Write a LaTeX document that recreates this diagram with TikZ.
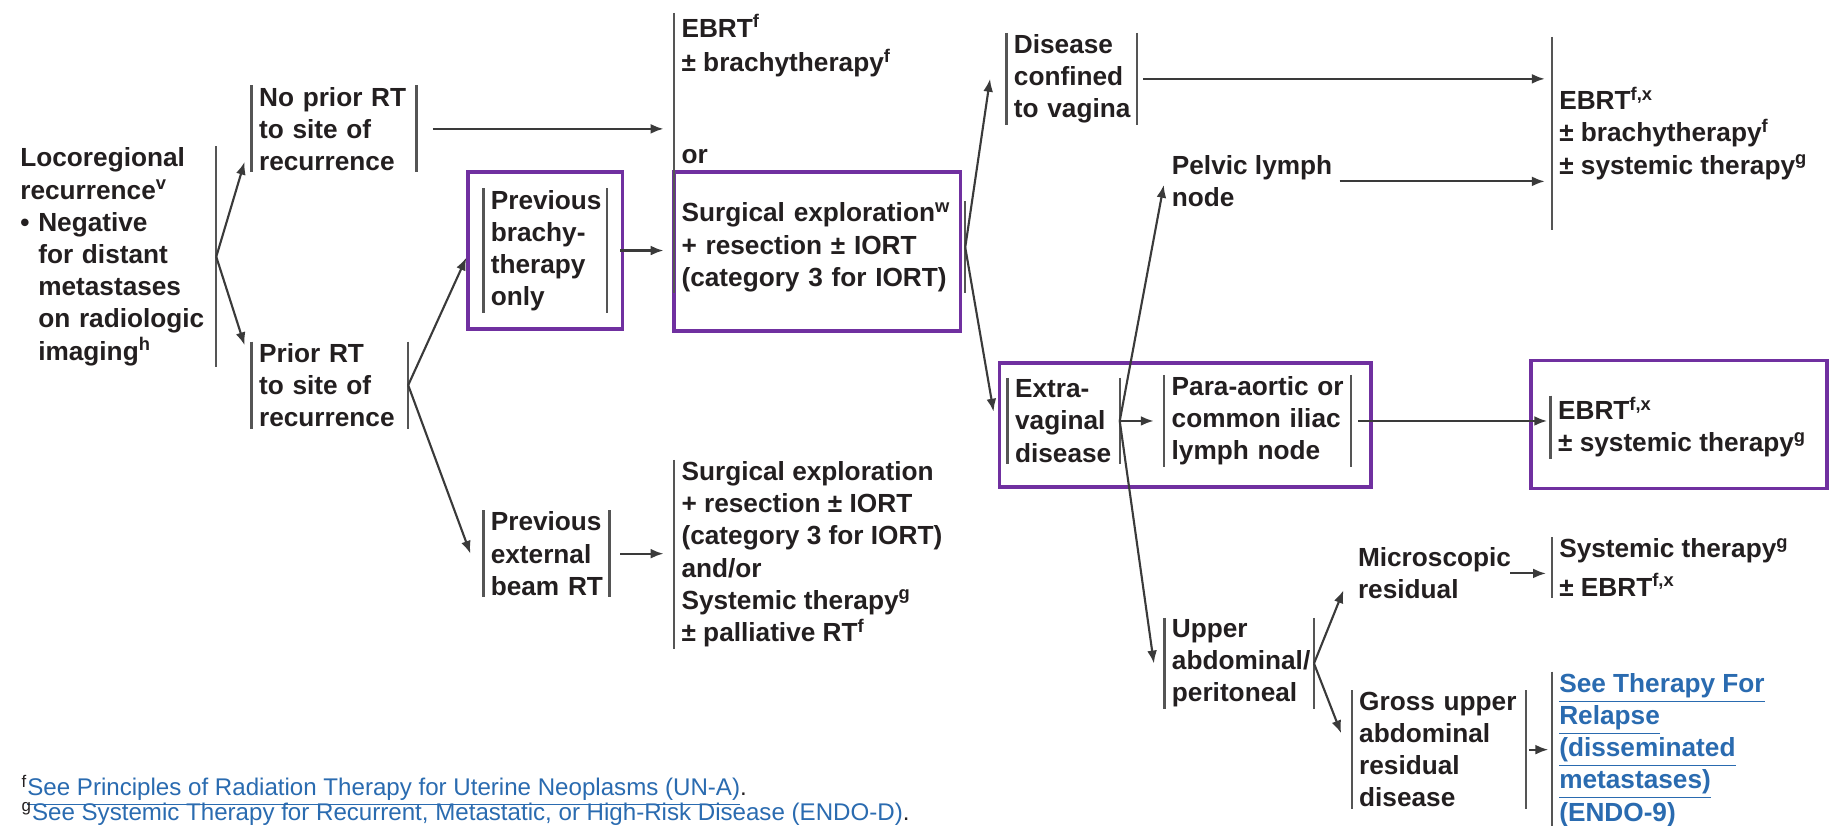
\documentclass[tikz,border=0pt]{standalone}
\usepackage{fontspec}
\setmainfont{Liberation Sans}
\usetikzlibrary{positioning, arrows.meta, fit}
\definecolor{ink}{HTML}{231F20}
\definecolor{barline}{HTML}{555555}
\definecolor{arrowline}{HTML}{3A3A3A}
\definecolor{nccnpurple}{HTML}{7030A0}
\definecolor{linkblue}{HTML}{2A6BB0}
\newcommand{\sups}[1]{\textsuperscript{#1}}
\newcommand{\lnk}[1]{\underline{#1}}
\newcommand{\bulind}{\phantom{\textbullet\ }}
\hyphenpenalty=10000
\exhyphenpenalty=10000

\begin{document}
\begin{tikzpicture}[
    x=0.5pt, y=-0.5pt,
    txt/.style={inner xsep=3pt, inner ysep=0.5pt, align=left, text=ink, font=\fontsize{11.2}{13.75}\selectfont\bfseries},
    fnote/.style={inner sep=0pt, text=ink, font=\fontsize{10.3}{10.75}\selectfont},
    hl/.style={draw=nccnpurple, line width=1.5pt},
    bar/.style={draw=barline, line width=1pt},
    arrow/.style={-{Latex[length=5.5pt,width=4.2pt]}, line width=0.9pt, draw=arrowline}
]
\path[use as bounding box, fill=white] (0,0) rectangle (1568,705);

% first split
\node[txt, anchor=north west, text width=80.5pt] (loco) at (11,125)
    {Locoregional\\recurrence\sups{v}\\\textbullet\ Negative\\\bulind for~distant\\\bulind metastases\\\bulind on~radiologic\\\bulind imaging\sups{h}};
\node[txt, anchor=north west, text width=64pt] (noprior) at (215,73) {No~prior~RT\\to~site~of\\recurrence};
\node[txt, anchor=north west, text width=60.5pt] (prior) at (215,292) {Prior~RT\\to~site~of\\recurrence};

% prior RT split
\node[txt, anchor=north west, text width=46.5pt] (brachy) at (413,161) {Previous\\brachy-\\therapy\\only};
\node[txt, anchor=north west, text width=47.5pt] (extbeam) at (413,436) {Previous\\external\\beam~RT};
\node[hl, fit=(brachy), inner xsep=6.5pt, inner ysep=7pt] (brachyhl) {};

% treatment column
\node[txt, anchor=north west] (ebrt) at (576,11) {EBRT\sups{f}\\[1pt]± brachytherapy\sups{f}};
\node[txt, anchor=west] (orword) at (576,134) {or};
\node[txt, anchor=north west, text width=118pt] (surg) at (576,172) {Surgical~exploration\sups{w}\\+~resection~±~IORT\\(category~3~for~IORT)};
\node[txt, anchor=north west] (salvage) at (576,393) {Surgical exploration\\+ resection ± IORT\\(category 3 for IORT)\\and/or\\Systemic therapy\sups{g}\\± palliative RT\sups{f}};

% findings at surgery
\node[txt, anchor=north west, text width=49.5pt] (dis) at (860,28) {Disease\\confined\\to~vagina};
\node[txt, anchor=west] (pelvic) at (995,155) {Pelvic lymph\\node};
\node[txt, anchor=north west, text width=41.5pt] (extra) at (861,323) {Extra-\\vaginal\\disease};
\node[txt, right=19pt of extra, text width=73.5pt] (para) {Para-aortic~or\\common~iliac\\lymph~node};
\node[txt, anchor=north west, text width=57.5pt] (upper) at (995,528) {Upper\\abdominal/\\peritoneal};
\node[txt, anchor=west] (micro) at (1154,490) {Microscopic\\residual};
\node[txt, anchor=north west, text width=68pt] (gross) at (1155,590) {Gross~upper\\abdominal\\residual\\disease};

% adjuvant treatment
\node[txt, anchor=west, minimum height=82pt] (ebrtx) at (1326,114) {EBRT\sups{f,x}\\± brachytherapy\sups{f}\\± systemic therapy\sups{g}};
\node[txt, anchor=north west] (ebrtxb) at (1325,338) {EBRT\sups{f,x}\\± systemic therapy\sups{g}};
\node[txt, anchor=north west] (sysg) at (1326,459) {Systemic therapy\sups{g}\\[2.5pt]± EBRT\sups{f,x}};
\node[txt, anchor=north west, text=linkblue] (relapse) at (1326,574) {\lnk{See Therapy For}\\\lnk{Relapse}\\\lnk{(disseminated}\\\lnk{metastases)}\\\lnk{(ENDO-9)}};

% footnotes
\node[fnote, anchor=base west] (fnf) at (18,680) {\sups{f}\textcolor{linkblue}{\lnk{See Principles of Radiation Therapy for Uterine Neoplasms (UN-A)}}.};
\node[fnote, anchor=base west] (fng) at (18,701) {\sups{g}\textcolor{linkblue}{\lnk{See Systemic Therapy for Recurrent, Metastatic, or High-Risk Disease (ENDO-D)}}.};

% highlight frames
\draw[hl] ([yshift=12.5pt]surg.north west) rectangle ([xshift=-2pt,yshift=-16pt]surg.south east);
\draw[hl] ([xshift=-3.5pt,yshift=6.5pt]extra.north west) rectangle ([xshift=8.5pt,yshift=-8.5pt]para.south east);
\draw[hl] ([xshift=-8.5pt,yshift=15pt]ebrtxb.north west) rectangle ([xshift=118pt,yshift=-12.5pt]ebrtxb.south west);

% bars
\foreach \n in {noprior, prior, brachy, extbeam, salvage, dis, extra, para, upper, gross, ebrtx, ebrtxb, sysg, relapse}
    \draw[bar] (\n.north west) -- (\n.south west);
\foreach \n in {loco, noprior, prior, brachy, extbeam, surg, dis, extra, para, upper, gross}
    \draw[bar] (\n.north east) -- (\n.south east);
\draw[bar] (ebrt.north west) -- (ebrt.north west |- surg.south);

% connectors
\draw[arrow] (loco.east) -- ([xshift=-3pt,yshift=4.5pt]noprior.south west);
\draw[arrow] (loco.east) -- ([xshift=-3pt,yshift=-1.5pt]prior.north west);
\draw[arrow, shorten <=7pt, shorten >=4.5pt] (noprior.east) -- (noprior.east -| ebrt.west);
\draw[arrow] (prior.east) -- ([yshift=-3pt]brachyhl.west);
\draw[arrow] (prior.east) -- ([xshift=-5.5pt]extbeam.west);
\draw[arrow, shorten <=5.5pt, shorten >=4.5pt] (brachy.east) -- (brachy.east -| surg.west);
\draw[arrow, shorten <=4.5pt, shorten >=4.5pt] (extbeam.east) -- (extbeam.east -| salvage.west);
\draw[arrow] (surg.east) -- ([xshift=-7pt]dis.west);
\draw[arrow] (surg.east) -- ([xshift=-6pt,yshift=4pt]extra.west);
\draw[arrow, shorten <=2.5pt, shorten >=3pt] (dis.east) -- (dis.east -| ebrtx.west);
\draw[arrow, shorten >=3pt] (pelvic.east) -- (pelvic.east -| ebrtx.west);
\draw[arrow, shorten >=4.5pt] (extra.east) -- (para.west);
\draw[arrow, shorten >=1.5pt] (extra.east) -- (pelvic.west);
\draw[arrow] (extra.east) -- ([xshift=-4.5pt]upper.west);
\draw[arrow, shorten <=3pt, shorten >=1.5pt] (para.east) -- (para.east -| ebrtxb.west);
\draw[arrow] (upper.east) -- ([xshift=-3pt,yshift=4.5pt]micro.south west);
\draw[arrow] (upper.east) -- ([xshift=-4.5pt,yshift=7pt]gross.west);
\draw[arrow, shorten <=-3.5pt, shorten >=2.5pt] (micro.east) -- (micro.east -| sysg.west);
\draw[arrow, shorten <=1.5pt, shorten >=1.5pt] (gross.east) -- (gross.east -| relapse.west);

\end{tikzpicture}
\end{document}
